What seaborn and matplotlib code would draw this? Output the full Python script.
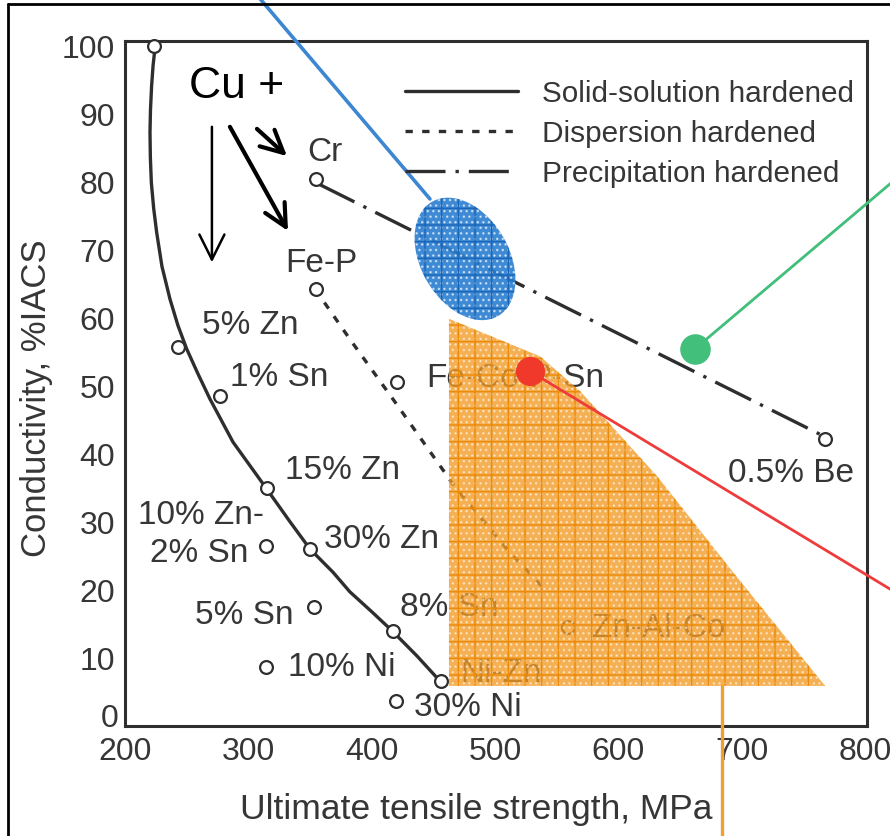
import numpy as np
import pandas as pd
import matplotlib
matplotlib.use("Agg")
import matplotlib.pyplot as plt
import seaborn as sns
from matplotlib.patches import Ellipse, Polygon
from matplotlib.lines import Line2D
from matplotlib.transforms import ScaledTranslation

# solid-solution hardened curve
solid_x = [224, 222.8, 221.6, 220.7, 220.3, 220.6, 221.4, 223.3, 225.7, 230, 236.5, 243, 250,
           259, 269, 287.6, 315, 333.8, 350, 368.6, 382.4, 400, 416.5, 436.7, 455.4]
solid_y = [99, 97, 94, 90.5, 87.2, 83.5, 79.8, 76, 72.5, 67.5, 62.7, 58.8, 55.4,
           51.8, 48, 41.7, 34.8, 30, 26, 22.6, 19.7, 16.8, 14, 10.3, 6.6]

# dispersion hardened curve
disp_x = [354, 382.4, 418.9, 467.6, 509.7, 542.2]
disp_y = [64.2, 56.8, 47.6, 35.1, 26.0, 19.7]

# precipitation hardened line
prec_x = [357, 764]
prec_y = [79.6, 42.8]

# alloy points (open circles)
alloy_x = [223.5, 243, 277, 315, 350, 417, 456, 314, 353, 314, 419.5, 354.5, 420.5, 559, 354.5, 767.5]
alloy_y = [99.9, 55.7, 48.5, 35, 26, 14, 6.6, 26.4, 17.5, 8.7, 3.7, 64.2, 50.5, 14.5, 80.3, 42.1]

# point labels
label_text = ["Cr", "Fe-P", "5% Zn", "1% Sn", "15% Zn", "10% Zn-", "2% Sn", "30% Zn",
              "5% Sn", "8% Sn", "10% Ni", "Ni-Zn", "30% Ni", "Fe-Co-P-Sn", "Zn-Al-Co", "0.5% Be"]
label_x = [362, 359, 301.4, 324.9, 376, 261.6, 260, 408.4, 296.5, 462.7, 376, 504.9, 478.1, 516.2, 633, 740]
label_y = [84.4, 68.1, 58.9, 51.4, 37.7, 31.1, 25.5, 27.6, 16.4, 17.6, 8.8, 7.9, 2.8, 51.2, 14.5, 37.2]

legend_labels = ["Solid-solution hardened", "Dispersion hardened", "Precipitation hardened"]
ytick_labels = ["", "10", "20", "30", "40", "50", "60", "70", "80", "90", "100"]

# overlay highlights
region_x = [462.7, 536.5, 568.9, 631.4, 693, 767.6, 462.7]
region_y = [59.8, 54.3, 49.2, 36.7, 22.6, 5.9, 5.9]
blue_center = (475.7, 68.6)
blue_line_x = [303, 447.3]
blue_line_y = [108.2, 77.4]
green_dot = (662.2, 55.4)
green_line_x = [662.2, 877]
green_line_y = [55.4, 88.3]
red_dot = (528.4, 52.1)
red_line_x = [528.4, 877]
red_line_y = [52.1, 13.9]
orange_line_x = [684, 684]
orange_line_y = [5.9, -20]

sns.set_style("white")
plt.rcParams["font.family"] = ["Liberation Sans", "DejaVu Sans"]
plt.rcParams["hatch.linewidth"] = 1.0

ink = "#2e2e2e"
txt_c = "#363636"
fig = plt.figure(figsize=(8.9, 8.37), dpi=100)
ax = fig.add_axes([0.1404, 0.1314, 0.8337, 0.8184])

sns.lineplot(x=solid_x, y=solid_y, sort=False, estimator=None, ax=ax, color=ink, lw=2.4, zorder=2)
sns.lineplot(x=disp_x, y=disp_y, sort=False, estimator=None, ax=ax, color=ink, lw=2.4,
             linestyle=(0, (2.2, 2.8)), zorder=2)
sns.lineplot(x=prec_x, y=prec_y, sort=False, estimator=None, ax=ax, color=ink, lw=2.4,
             linestyle=(0, (12, 3, 1, 3)), zorder=2)
sns.scatterplot(x=alloy_x, y=alloy_y, ax=ax, s=85, facecolor="white",
                edgecolor=ink, linewidth=1.6, zorder=3, clip_on=False)

for t, x, y in zip(label_text, label_x, label_y):
    ax.text(x, y, t, ha="center", va="center", fontsize=24, color=txt_c, zorder=3)

ax.set_xlim(200, 801.6)
ax.set_ylim(0, 100.6)
ax.set_xticks(range(200, 801, 100))
ax.set_yticks(range(0, 101, 10))
ax.set_yticklabels(ytick_labels)
ax.tick_params(direction="in", length=14, width=2, color=ink, labelsize=23,
               labelcolor=txt_c, pad=7)
ax.annotate("0", xy=(200, 0), xytext=(-5, 6), textcoords="offset points",
            ha="right", va="center", fontsize=23, color=txt_c, annotation_clip=False)
for s in ax.spines.values():
    s.set_color(ink)
    s.set_linewidth(2.2)
ax.set_xlabel("Ultimate tensile strength, MPa", fontsize=25.5, color=txt_c)
ax.xaxis.set_label_coords((476 - 125) / 741, -(793 - 727) / 685)
ax.set_ylabel("Conductivity, %IACS", fontsize=25, color=txt_c)
ax.yaxis.set_label_coords(-(125 - 53) / 741, (727 - 398) / 685)

handles = [Line2D([], [], color=ink, lw=2.4),
           Line2D([], [], color=ink, lw=2.4, linestyle=(0, (2.2, 2.8))),
           Line2D([], [], color=ink, lw=2.4, linestyle=(0, (12, 3, 1, 3)))]
leg = ax.legend(handles, legend_labels, loc="upper left", bbox_to_anchor=(0.378, 0.944),
                frameon=False, fontsize=21.4, handlelength=3.8, handletextpad=0.78,
                labelspacing=0.4, borderpad=0, borderaxespad=0)
for txt in leg.get_texts():
    txt.set_color(txt_c)

# "Cu +" annotation with arrows
ax.text(290.8, 94, "Cu +", fontsize=32, color="black", ha="center", va="center", zorder=4)
ax.annotate("", xy=(270.5, 68.1), xytext=(270.5, 88.0),
            arrowprops=dict(arrowstyle="->,head_length=0.9,head_width=0.45", lw=1.8,
                            color="black", shrinkA=0, shrinkB=0, mutation_scale=20))
ax.annotate("", xy=(332.2, 72.7), xytext=(285.1, 88.0),
            arrowprops=dict(arrowstyle="->,head_length=0.8,head_width=0.4", lw=3,
                            color="black", shrinkA=0, shrinkB=0, mutation_scale=20))
ax.annotate("", xy=(331.4, 83.7), xytext=(307, 87.7),
            arrowprops=dict(arrowstyle="->,head_length=0.8,head_width=0.4", lw=3,
                            color="black", shrinkA=0, shrinkB=0, mutation_scale=20))

# highlight overlays: base colour, white dot texture, grid
ax.plot(blue_line_x, blue_line_y, color="#3d86d2", lw=2.6, clip_on=False, zorder=5)
ell_tr = fig.dpi_scale_trans + ScaledTranslation(*blue_center, ax.transData)
for fc, ec, h, a in [("#2a7dd0", "none", None, 0.9), ("none", "white", "...", 0.6),
                     ("none", "#1a66b8", "+", 1)]:
    ax.add_patch(Ellipse((0, 0), 0.88, 1.32, angle=30, transform=ell_tr, facecolor=fc,
                         edgecolor=ec, hatch=h, lw=0, alpha=a, zorder=5))

for fc, ec, h, a in [("#f29a22", "none", None, 0.78), ("none", "white", "...", 0.5),
                     ("none", "#ec8a0a", "+", 1)]:
    ax.add_patch(Polygon(list(zip(region_x, region_y)), closed=True, facecolor=fc,
                         edgecolor=ec, hatch=h, lw=0, alpha=a, zorder=5))
ax.plot(orange_line_x, orange_line_y, color="#f0a030", lw=2.4, clip_on=False, zorder=5)

ax.plot(green_line_x, green_line_y, color="#3fbf79", lw=2, clip_on=False, zorder=6)
ax.plot(*green_dot, marker="o", ms=21, color="#43bf7c", zorder=6)
ax.plot(red_line_x, red_line_y, color="#ee3b3b", lw=2, clip_on=False, zorder=6)
ax.plot(*red_dot, marker="o", ms=20, color="#f0392a", zorder=6)

# scan border
fig.add_artist(Line2D([8 / 890, 8 / 890], [0, 1 - 5 / 837], transform=fig.transFigure,
                      color="black", lw=2))
fig.add_artist(Line2D([8 / 890, 1], [1 - 5 / 837, 1 - 5 / 837], transform=fig.transFigure,
                      color="black", lw=2))

fig.savefig("out.png", dpi=100)
